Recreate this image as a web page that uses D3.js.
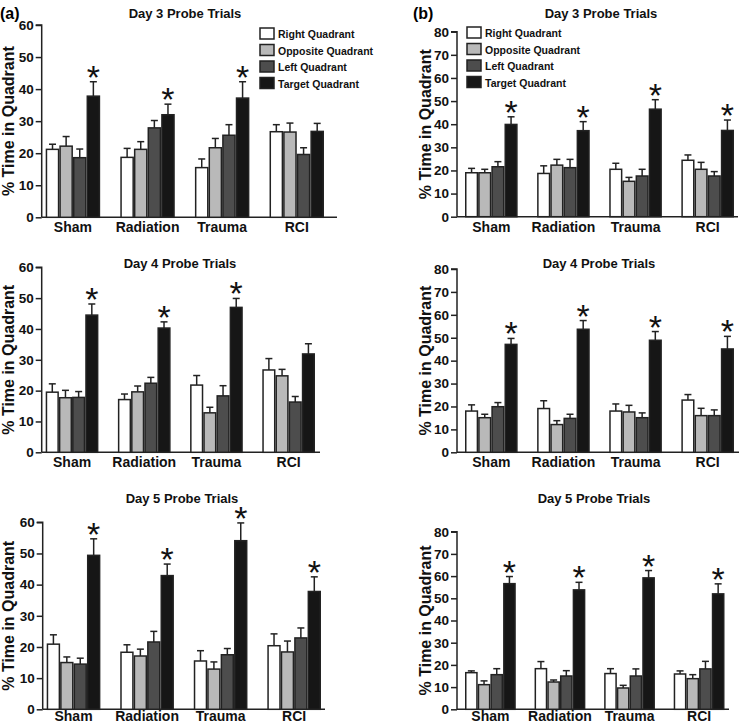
<!DOCTYPE html>
<html><head><meta charset="utf-8">
<script src="https://cdn.jsdelivr.net/npm/d3@7"></script>
<style>
html,body{margin:0;padding:0;background:#fff;}
svg{display:block;font-family:"Liberation Sans",Arial,sans-serif;}
</style></head>
<body><svg id="chart" width="742" height="725"></svg>
<script>
// ---------- DATA ----------
const categories = ["Sham", "Radiation", "Trauma", "RCI"];
const series = ["Right Quadrant", "Opposite Quadrant", "Left Quadrant", "Target Quadrant"];
const titles = ["Day 3 Probe Trials", "Day 4 Probe Trials", "Day 5 Probe Trials"];
const yLabel = "% Time in Quadrant";
const panelLetters = ["(a)", "(b)"];
const ticksA = [0, 10, 20, 30, 40, 50, 60];
const ticksB = [0, 10, 20, 30, 40, 50, 60, 70, 80];

// means [category][series], sem [category][series], sig per category
const aDay3Means = [[21.2,22.2,18.6,37.8],[18.7,21.2,27.9,32.0],[15.5,21.7,25.6,37.2],[26.7,26.6,19.6,26.8]];
const aDay3Sem   = [[1.6,3.0,2.7,4.5],[2.8,2.4,2.3,3.3],[2.7,2.9,3.3,5.1],[2.2,2.8,2.1,2.5]];
const aDay3Sig   = [1,1,1,0];
const aDay4Means = [[19.5,17.7,17.8,44.5],[17.1,19.6,22.4,40.3],[21.8,12.8,18.3,47.0],[26.7,24.8,16.3,31.9]];
const aDay4Sem   = [[2.7,2.4,1.9,3.6],[1.8,1.9,1.9,2.0],[3.1,1.8,3.3,2.9],[3.7,2.1,1.8,3.3]];
const aDay4Sig   = [1,1,1,0];
const aDay5Means = [[20.9,15.0,14.5,49.4],[18.3,17.1,21.6,42.9],[15.5,12.9,17.5,54.1],[20.4,18.4,22.9,37.8]];
const aDay5Sem   = [[3.0,1.8,1.9,5.3],[2.4,2.2,3.4,3.7],[3.3,2.3,2.0,5.7],[3.8,3.5,3.2,4.7]];
const aDay5Sig   = [1,1,1,1];
const bDay3Means = [[19.0,19.0,21.6,39.9],[18.7,22.3,21.2,37.2],[20.5,15.3,17.6,46.5],[24.4,20.5,17.6,37.3]];
const bDay3Sem   = [[1.9,1.5,2.2,3.3],[3.3,2.5,3.6,3.9],[2.6,1.7,2.9,4.1],[2.3,3.0,1.9,4.5]];
const bDay3Sig   = [1,1,1,1];
const bDay4Means = [[18.0,15.1,19.9,47.1],[19.1,12.1,14.8,53.7],[18.0,17.6,15.1,48.9],[22.8,16.0,16.0,45.1]];
const bDay4Sem   = [[2.7,1.5,1.8,2.6],[3.4,1.7,1.8,3.8],[3.1,2.9,2.1,3.8],[2.4,3.2,2.5,5.5]];
const bDay4Sig   = [1,1,1,1];
const bDay5Means = [[16.5,11.1,15.6,56.6],[18.3,12.3,15.0,53.8],[16.1,9.6,15.0,59.2],[15.9,13.8,18.2,52.0]];
const bDay5Sem   = [[0.8,1.7,2.7,3.2],[3.2,0.9,2.4,3.4],[2.2,1.2,3.2,3.3],[1.4,1.8,3.4,4.5]];
const bDay5Sig   = [1,1,1,1];

// ---------- STYLE / LAYOUT ----------
const fills = ["#ffffff", "#b9b9b9", "#4d4d4d", "#161616"];
const svg = d3.select("#chart");

const panels = [
  {means:aDay3Means, sem:aDay3Sem, sig:aDay3Sig, title:titles[0], ticks:ticksA, ax:41.7, y0:217.3, yTop:25,  gx0:45.7, gx1:324, axEnd:337, tx:185, ty:18,  ylx:8,   pad:5, legend:{x:260,y:28}},
  {means:aDay4Means, sem:aDay4Sem, sig:aDay4Sig, title:titles[1], ticks:ticksA, ax:41.7, y0:452.3, yTop:267.3, gx0:45.7, gx1:315, axEnd:320, tx:180, ty:268, ylx:8, pad:5},
  {means:aDay5Means, sem:aDay5Sem, sig:aDay5Sig, title:titles[2], ticks:ticksA, ax:42.7, y0:709.3, yTop:522.3, gx0:46.7, gx1:321, axEnd:325, tx:182, ty:503, ylx:8, pad:2},
  {means:bDay3Means, sem:bDay3Sem, sig:bDay3Sig, title:titles[0], ticks:ticksB, ax:457, y0:216.7, yTop:31.7, gx0:465, gx1:734, axEnd:738, tx:601, ty:18,  ylx:425, pad:5, legend:{x:467,y:27}},
  {means:bDay4Means, sem:bDay4Sem, sig:bDay4Sig, title:titles[1], ticks:ticksB, ax:457, y0:452.3, yTop:269, gx0:465, gx1:734, axEnd:739, tx:599, ty:268, ylx:425, pad:5},
  {means:bDay5Means, sem:bDay5Sem, sig:bDay5Sig, title:titles[2], ticks:ticksB, ax:457, y0:709.3, yTop:531.7, gx0:465, gx1:724.5, axEnd:729, tx:594, ty:503, ylx:425, pad:2}
];

// panel letters
svg.append("text").attr("x", 0).attr("y", 19).attr("font-size", 16).attr("font-weight", "bold").text(panelLetters[0]);
svg.append("text").attr("x", 413).attr("y", 19).attr("font-size", 16).attr("font-weight", "bold").text(panelLetters[1]);

panels.forEach(p => {
  const g = svg.append("g");
  const maxV = p.ticks[p.ticks.length - 1];
  const y = d3.scaleLinear().domain([0, maxV]).range([p.y0, p.yTop]);
  const x0 = d3.scaleBand().domain(categories).range([p.gx0, p.gx1]).paddingInner(0.27).paddingOuter(0);
  const x1 = d3.scaleBand().domain(series).range([0, x0.bandwidth()]).padding(0);

  // y axis
  const yAxis = d3.axisLeft(y).tickValues(p.ticks).tickSize(6).tickPadding(2).tickFormat(d3.format("d"));
  const ya = g.append("g").attr("transform", `translate(${p.ax},0)`).call(yAxis);
  ya.select(".domain").attr("stroke", "#222").attr("stroke-width", 1.5).attr("d", `M-6,${p.yTop}H0V${p.y0}`);
  ya.selectAll(".tick line").attr("stroke", "#222").attr("stroke-width", 1.5);
  ya.selectAll(".tick text").attr("font-size", 13.5).attr("font-weight", "bold").attr("fill", "#111")
    .attr("font-family", "'Liberation Sans', Arial, sans-serif");

  // x axis
  const xAxis = d3.axisBottom(x0).tickSize(0).tickPadding(p.pad);
  const xa = g.append("g").attr("transform", `translate(0,${p.y0})`).call(xAxis);
  xa.select(".domain").attr("stroke", "#222").attr("stroke-width", 1.5).attr("d", `M${p.ax},0H${p.axEnd}`);
  xa.selectAll(".tick text").attr("font-size", 14).attr("font-weight", "bold").attr("fill", "#111")
    .attr("font-family", "'Liberation Sans', Arial, sans-serif");

  // title
  g.append("text").attr("x", p.tx).attr("y", p.ty).attr("text-anchor", "middle")
    .attr("font-size", 13).attr("font-weight", "bold").attr("fill", "#111").text(p.title);

  // y label
  g.append("text").attr("transform", `translate(${p.ylx + 6},${(p.y0 + p.yTop) / 2}) rotate(-90)`)
    .attr("text-anchor", "middle").attr("font-size", 16).attr("font-weight", "bold").attr("fill", "#111").text(yLabel);

  // bars
  const rows = [];
  categories.forEach((c, ci) => series.forEach((s, si) => rows.push({c, s, ci, si, v: p.means[ci][si], e: p.sem[ci][si]})));
  const gb = g.append("g");
  rows.forEach(d => {
    const cx = x0(d.c) + x1(d.s) + x1.bandwidth() / 2;
    gb.append("line").attr("x1", cx).attr("x2", cx).attr("y1", y(d.v)).attr("y2", y(d.v + d.e))
      .attr("stroke", "#222").attr("stroke-width", 1.5);
    gb.append("line").attr("x1", cx - 3.5).attr("x2", cx + 3.5).attr("y1", y(d.v + d.e)).attr("y2", y(d.v + d.e))
      .attr("stroke", "#222").attr("stroke-width", 1.5);
  });
  gb.selectAll("rect").data(rows).join("rect")
    .attr("x", d => x0(d.c) + x1(d.s) + 0.75)
    .attr("y", d => y(d.v))
    .attr("width", x1.bandwidth() - 1.5)
    .attr("height", d => y(0) - y(d.v))
    .attr("fill", d => fills[d.si])
    .attr("stroke", "#222").attr("stroke-width", 1.5);

  // significance asterisks
  categories.forEach((c, ci) => {
    if (!p.sig[ci]) return;
    const si = 3;
    const cx = x0(c) + x1(series[si]) + x1.bandwidth() / 2;
    const top = y(p.means[ci][si] + p.sem[ci][si]);
    g.append("text").attr("x", cx).attr("y", top + 7).attr("text-anchor", "middle")
      .attr("font-size", 34).attr("fill", "#111").text("*");
  });

  // legend
  if (p.legend) {
    const lg = g.append("g").attr("transform", `translate(${p.legend.x},${p.legend.y})`);
    series.forEach((s, i) => {
      const row = lg.append("g").attr("transform", `translate(0,${i * 16.5})`);
      row.append("rect").attr("x", 0).attr("y", 0).attr("width", 14).attr("height", 11)
        .attr("fill", fills[i]).attr("stroke", "#222").attr("stroke-width", 1.5);
      row.append("text").attr("x", 18).attr("y", 10).attr("font-size", 10.5).attr("font-weight", "bold")
        .attr("fill", "#111").text(s);
    });
  }
});
</script>
</body></html>
